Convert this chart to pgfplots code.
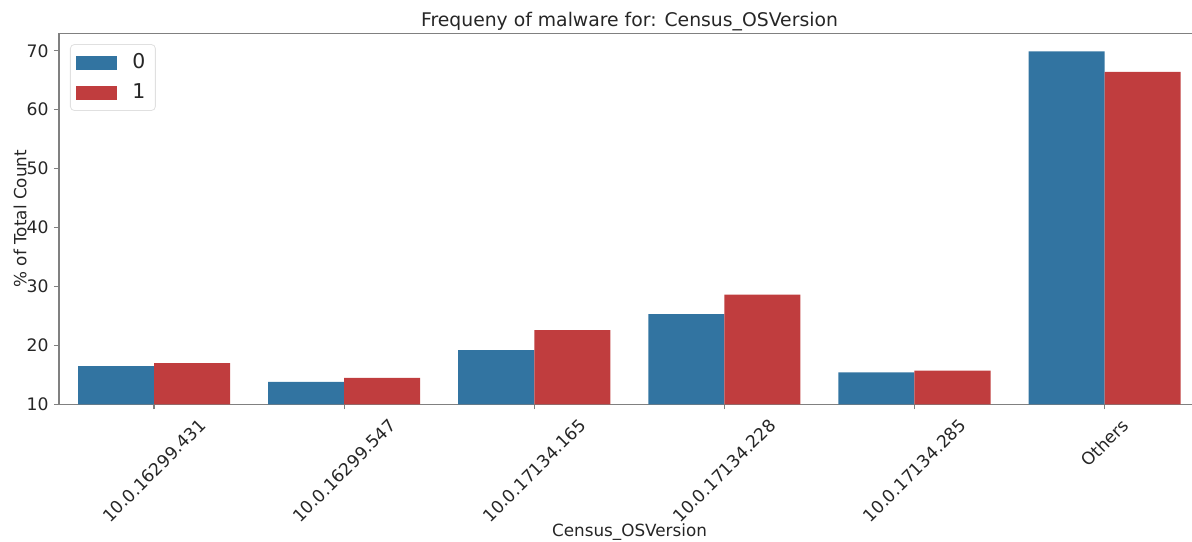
\documentclass[border=0pt]{standalone}
\usepackage{fontspec}
\setmainfont{DejaVu Sans}
\usepackage{pgfplots}
\pgfplotsset{compat=1.18}
\definecolor{sbblue}{HTML}{3274A1}
\definecolor{sbred}{HTML}{C03D3E}
\definecolor{txt}{HTML}{262626}
\begin{document}
\begin{tikzpicture}[font=\fontsize{8.6}{10}\selectfont, text=txt]
\begin{axis}[
  name=ax,
  scale only axis,
  width=566.5pt, height=185.6pt,
  xmin=-0.5, xmax=5.46, ymin=10, ymax=73,
  ybar=0pt, bar width=0.4,
  axis x line*=box, axis y line*=left,
  axis line style={black!50, line width=0.6pt},
  xtick={0,1,2,3,4,5},
  xticklabels={\rotatebox{45}{10.0.16299.431},\rotatebox{45}{10.0.16299.547},\rotatebox{45}{10.0.17134.165},\rotatebox{45}{10.0.17134.228},\rotatebox{45}{10.0.17134.285},\rotatebox{45}{Others}},
  xticklabel style={anchor=north, inner sep=0pt, yshift=-4pt},
  ytick={10,20,30,40,50,60,70},
  yticklabel style={inner sep=0pt, xshift=-2.5pt, anchor=east},
  /pgf/number format/assume math mode=true,
  tick align=outside, xtick pos=bottom, ytick pos=left,
  major tick length=2.5pt,
  tick style={black!50, line width=0.6pt},
  legend style={at={(0,1)}, anchor=north west, xshift=5.5pt, yshift=-5.5pt,
    draw=black!12, rounded corners=2pt, fill=white,
    font=\fontsize{10.2}{11}\selectfont, inner xsep=3pt, inner ysep=2.5pt,
    row sep=2pt},
  legend cell align=left,
  legend image code/.code={\fill[#1, sharp corners] (0pt,-3.5pt) rectangle (20.5pt,3.5pt); \path (26pt,0pt);},
]
\addplot[fill=sbblue, draw=none] coordinates {(0,16.5) (1,13.8) (2,19.2) (3,25.3) (4,15.4) (5,69.9)};
\addplot[fill=sbred, draw=none] coordinates {(0,17.0) (1,14.5) (2,22.6) (3,28.6) (4,15.7) (5,66.4)};
\legend{0,1}
\end{axis}
\node[font=\fontsize{9.4}{11}\selectfont] at ([xshift=2pt, yshift=5.8pt]ax.north) {Frequeny of malware for: Census\_OSVersion};
\node[rotate=90, font=\fontsize{8.4}{10}\selectfont] at ([xshift=-19.5pt]ax.west) {\% of Total Count};
\node[font=\fontsize{8.4}{10}\selectfont] at ([xshift=2pt, yshift=-64pt]ax.south) {Census\_OSVersion};
\pgfresetboundingbox
\path ([shift={(-29.5pt,-68.35pt)}]ax.south west) rectangle ++(596pt,270.5pt);
\end{tikzpicture}
\end{document}
